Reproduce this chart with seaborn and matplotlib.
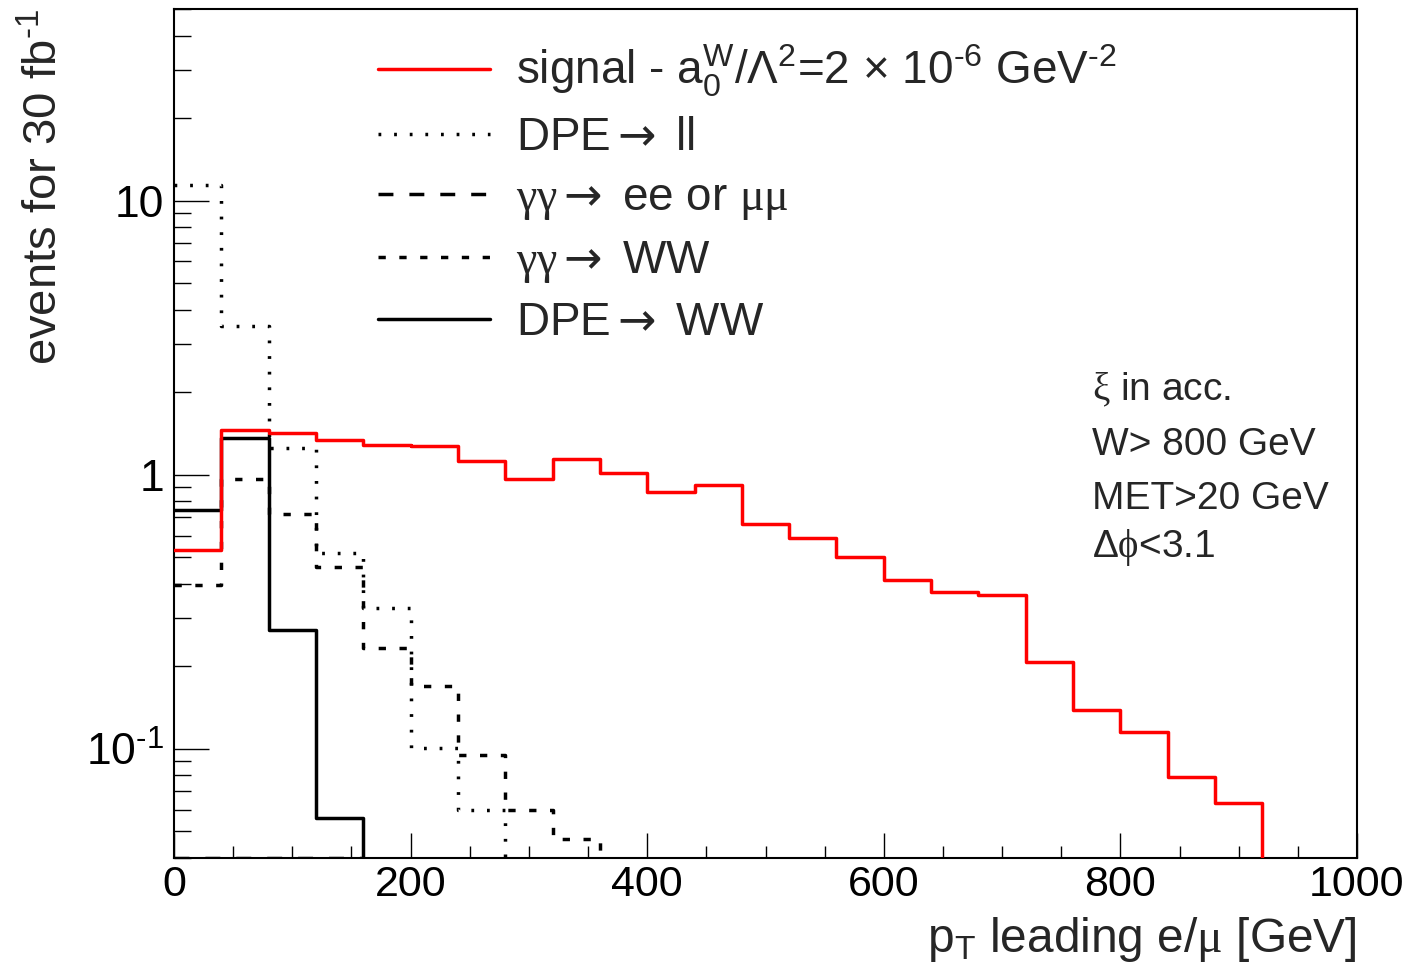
import numpy as np
import matplotlib
matplotlib.use("Agg")
import matplotlib.pyplot as plt
import seaborn as sns
from matplotlib.ticker import LogLocator, MultipleLocator, FuncFormatter, NullFormatter

# --- data: 40 GeV bins of leading lepton pT, events for 30 fb^-1 ---
bin_edges = list(range(0, 1040, 40))
bin_centres = [e + 20 for e in bin_edges[:-1]]

signal = [0.531, 1.459, 1.419, 1.334, 1.286, 1.276, 1.118, 0.967, 1.144, 1.014,
          0.862, 0.920, 0.661, 0.586, 0.502, 0.414, 0.374, 0.365, 0.207, 0.139,
          0.115, 0.079, 0.0636, 0, 0]
dpe_ll = [11.41, 3.50, 1.251, 0.518, 0.327, 0.1008, 0.0601] + [0] * 18
gg_ll = [0.020, 0.025, 0.020, 0.015] + [0] * 21       # below the plotted range
gg_ww = [0.395, 0.964, 0.719, 0.461, 0.233, 0.169, 0.0951, 0.0601, 0.0471] + [0] * 16
dpe_ww = [0.745, 1.361, 0.271, 0.056] + [0] * 21

arrow = r"$\mathsf{\rightarrow}$"
labels = [r"signal - a$_0^{W}$/Λ$^{2}$=2 × 10$^{\text{-6}}$ GeV$^{\text{-2}}$",
          "DPE" + arrow + " ll",
          r"$\mathit{\gamma\gamma}$" + arrow + r" ee or $\mathit{\mu\mu}$",
          r"$\mathit{\gamma\gamma}$" + arrow + " WW",
          "DPE" + arrow + " WW"]
cuts = [r"$\mathit{\xi}$ in acc.", "W> 800 GeV", "MET>20 GeV", r"Δ$\mathit{\phi}$<3.1"]

y_min, y_max = 0.04, 50

sns.set_style("ticks")
plt.rcParams['font.family'] = ['Liberation Sans', 'DejaVu Sans']
plt.rcParams['mathtext.fontset'] = 'custom'
plt.rcParams['mathtext.rm'] = 'Liberation Sans'
plt.rcParams['mathtext.it'] = 'Liberation Serif'
plt.rcParams['mathtext.sf'] = 'DejaVu Sans'
plt.rcParams['mathtext.default'] = 'regular'

fig = plt.figure(figsize=(14.18, 9.77), dpi=100)
ax = fig.add_axes([174 / 1418, 1 - 858 / 977, 1183 / 1418, 849 / 977])
ax.set_yscale('log')

lw = 2.5
# ROOT values below the minimum sit on the frame
gg_ll_drawn = [max(v, y_min) if v > 0 else 0 for v in gg_ll]

styles = [
    (dpe_ll, labels[1], 'black', (0, (0.8, 3.7)), 2),
    (gg_ll_drawn, labels[2], 'black', (0, (4.3, 4.6)), 3),
    (gg_ww, labels[3], 'black', (0, (2.1, 3.9)), 2),
    (dpe_ww, labels[4], 'black', '-', 2),
    (signal, labels[0], 'red', '-', 4),
]
for vals, lab, col, ls, z in styles:
    sns.histplot(x=bin_centres, weights=vals, bins=bin_edges, element='step',
                 fill=False, color=col, linestyle=ls, linewidth=lw, label=lab,
                 zorder=z, ax=ax)

ax.set_xlim(0, 1000)
ax.set_ylim(y_min, y_max)

ax.xaxis.set_major_locator(MultipleLocator(200))
ax.xaxis.set_minor_locator(MultipleLocator(50))
ax.yaxis.set_major_locator(LogLocator(base=10))
ax.yaxis.set_minor_locator(LogLocator(base=10, subs=np.arange(2, 10)))
ax.yaxis.set_minor_formatter(NullFormatter())


def log_label(v, pos):
    if np.isclose(v, 1):
        return '1'
    if np.isclose(v, 10):
        return '10'
    if np.isclose(v, 0.1):
        return r'10$^{\text{-1}}$'
    return ''


ax.yaxis.set_major_formatter(FuncFormatter(log_label))

ax.tick_params(axis='both', which='both', direction='in', top=False, right=False,
               width=1.0, color='black', labelcolor='black')
ax.tick_params(axis='y', which='major', length=25, pad=7, labelsize=32)
ax.tick_params(axis='y', which='minor', length=12)
ax.tick_params(axis='x', which='major', length=18, pad=5, labelsize=31)
ax.tick_params(axis='x', which='minor', length=8.5)
for sp in ax.spines.values():
    sp.set_visible(True)
    sp.set_linewidth(1.5)
    sp.set_color('black')

ax.set_xlabel(r"p$_T$ leading e/$\mathit{\mu}$ [GeV]", fontsize=34.5, loc='right')
ax.xaxis.set_label_coords(1.0, -0.067)
ax.set_ylabel(r"events for 30 fb$^{\text{-1}}$", fontsize=34, loc='top')
ax.yaxis.set_label_coords(-0.09, 1.0)

handles, labs = ax.get_legend_handles_labels()
order = [labs.index(l) for l in labels]
ax.legend([handles[i] for i in order], [labs[i] for i in order],
          loc='upper left', bbox_to_anchor=(378 / 1418, 1 - 43 / 977),
          bbox_transform=fig.transFigure, frameon=False, fontsize=33,
          handlelength=2.45, handletextpad=0.55, labelspacing=0.36,
          borderpad=0, borderaxespad=0)

for txt, ypx in zip(cuts, [390, 445, 499, 547]):
    fig.text(1092 / 1418, 1 - ypx / 977, txt, fontsize=28, ha='left', va='center')

fig.savefig('out.png', dpi=100)
